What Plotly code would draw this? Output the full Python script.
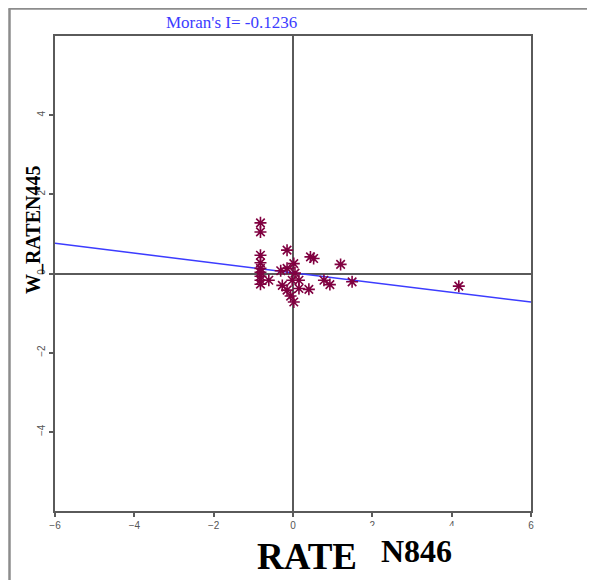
import numpy as np
import plotly.graph_objects as go

# ---- data ----
rate_x = [-0.82, -0.82, -0.82, -0.82, -0.82, -0.82, -0.82, -0.82, -0.82, -0.61,
          -0.15, -0.31, -0.15, 0.02, 0.05, -0.02, 0.15, -0.27, -0.15, 0.15,
          -0.06, 0.02, 0.44, 0.52, 0.40, 0.78, 0.93, 1.20, 1.49, 4.18]
w_rate_y = [1.28, 1.05, 0.46, 0.27, 0.13, 0.03, -0.07, -0.17, -0.27, -0.17,
            0.59, 0.07, 0.13, 0.25, 0.01, -0.17, -0.17, -0.30, -0.42, -0.38,
            -0.57, -0.72, 0.42, 0.38, -0.40, -0.17, -0.28, 0.23, -0.21, -0.32]
moran_i = -0.1236
fit_intercept = 0.02
x_range = [-6, 6]
y_range = [-6, 6]
x_ticks = [-6, -4, -2, 0, 2, 4, 6]
y_ticks = [-4, -2, 0, 2, 4]
title_text = "Moran's I= -0.1236"
y_label = "W_RATEN445"
x_label_a = "RATE"
x_label_b = "N846"

# ---- geometry: page pixels; the page body has an 8px margin ----
OFF = 8
W, H = 595 - OFF, 580 - OFF
PL, PR, PT, PB = 55, 531, 35.5, 511.5   # plot box in page pixels
L = PL - OFF
T = PT - OFF
R = W - (PR - OFF)
B = H - (PB - OFF)
pw = PR - PL
ph = PB - PT


def px(xp):
    return (xp - PL) / pw


def py(yp):
    return (PB - yp) / ph


fit_x = np.array(x_range, dtype=float)
fit_y = fit_intercept + moran_i * fit_x

mcol = "#800040"
fig = go.Figure()
fig.add_trace(go.Scatter(x=fit_x, y=fit_y, mode="lines",
                         line=dict(color="#3c3cff", width=1.5),
                         hoverinfo="skip", showlegend=False))
fig.add_trace(go.Scatter(x=rate_x, y=w_rate_y, mode="markers",
                         marker=dict(symbol="asterisk-open", size=10, color=mcol,
                                     line=dict(color=mcol, width=1.6)),
                         showlegend=False))

serif = "Liberation Serif, Times New Roman, serif"
sans = "Liberation Sans, Arial, sans-serif"

fig.update_layout(
    width=W, height=H,
    margin=dict(l=L, r=R, t=T, b=B),
    paper_bgcolor="white", plot_bgcolor="white",
    xaxis=dict(range=x_range, tickvals=x_ticks, showgrid=False,
               zeroline=True, zerolinecolor="#5a5a5a", zerolinewidth=2,
               showline=True, linecolor="#5a5a5a", linewidth=2, mirror=True,
               ticks="outside", ticklen=4, tickcolor="#5a5a5a", tickwidth=1.5,
               tickfont=dict(family=sans, size=10, color="#555555")),
    yaxis=dict(range=y_range, tickvals=y_ticks, showgrid=False,
               zeroline=True, zerolinecolor="#5a5a5a", zerolinewidth=2,
               showline=True, linecolor="#5a5a5a", linewidth=2, mirror=True,
               ticks="outside", ticklen=4, tickcolor="#5a5a5a", tickwidth=1.5,
               tickangle=-90,
               tickfont=dict(family=sans, size=10, color="#555555")),
    shapes=[
        dict(type="line", xref="paper", yref="paper",
             x0=px(8.5), x1=px(600), y0=py(8), y1=py(8),
             line=dict(color="#8c8c8c", width=2.5)),
        dict(type="line", xref="paper", yref="paper",
             x0=px(9.5), x1=px(9.5), y0=py(8), y1=py(590),
             line=dict(color="#8c8c8c", width=2.5)),
    ],
    annotations=[
        dict(text=title_text, xref="paper", yref="paper",
             x=px(231.5), y=py(22), xanchor="center", yanchor="middle",
             showarrow=False, borderpad=0,
             font=dict(family=serif, size=17, color="#3c3cff")),
        dict(text="<b>%s</b>" % y_label, xref="paper", yref="paper",
             x=px(33), y=py(230), xanchor="center", yanchor="middle",
             textangle=-90, showarrow=False, borderpad=0,
             font=dict(family=serif, size=20, color="black")),
        dict(text="<b>%s</b>" % x_label_a, xref="paper", yref="paper",
             x=px(256), y=py(557), xanchor="left", yanchor="middle",
             showarrow=False, borderpad=0,
             font=dict(family=serif, size=37, color="black")),
        dict(text=" ", xref="paper", yref="paper",
             x=px(359.5), y=py(527), xanchor="left", yanchor="top",
             width=147, height=53, bgcolor="white", borderpad=0,
             borderwidth=0, showarrow=False),
        dict(text="<b>%s</b>" % x_label_b, xref="paper", yref="paper",
             x=px(380), y=py(552), xanchor="left", yanchor="middle",
             showarrow=False, borderpad=0,
             font=dict(family=serif, size=32, color="black")),
    ],
)

fig.write_html("out.html")
